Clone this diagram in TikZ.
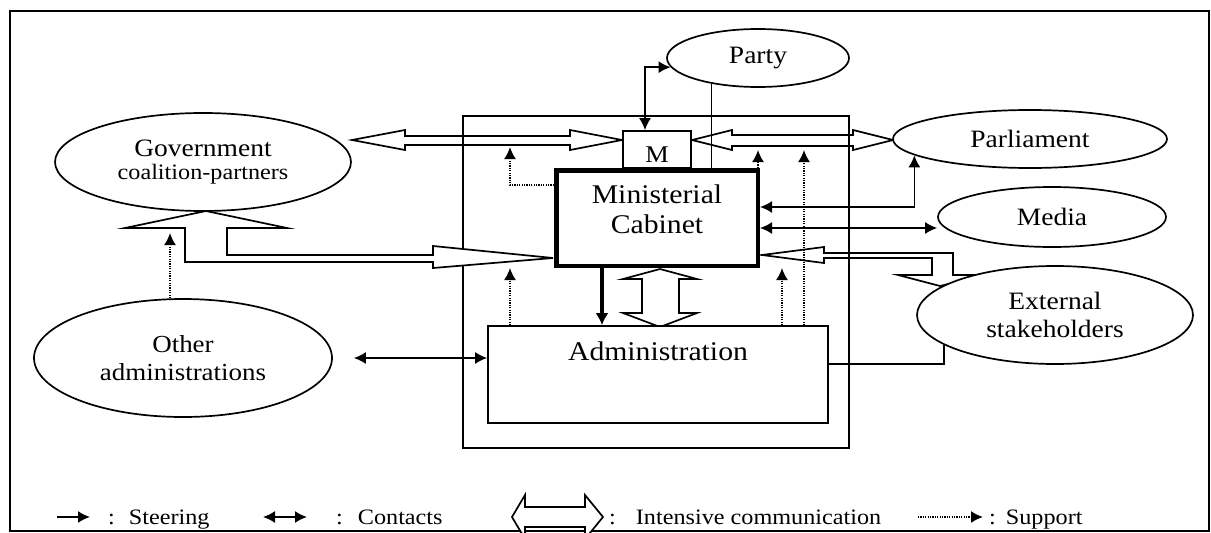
\documentclass[tikz,border=0pt]{standalone}
\usepackage{fontspec}
\setmainfont{Liberation Serif}[FakeStretch=1.1]
\usetikzlibrary{arrows.meta,shapes.geometric}
\begin{document}
\begin{tikzpicture}[x=1pt,y=-1pt,
  lw/.style={line width=1.7pt},
  ell/.style={draw, ellipse, lw, fill=white, inner sep=0pt, align=center, font=\fontsize{25}{28}\selectfont},
  hollow/.style={draw, lw, fill=white, line join=miter},
  boxed/.style={draw, lw, fill=white, inner sep=0pt},
  steerarr/.style={lw, -{Latex[length=12pt,width=12pt]}},
  contactarr/.style={lw, {Latex[length=12pt,width=12pt]}-{Latex[length=12pt,width=12pt]}},
  supportarr/.style={lw, dash pattern=on 1.2pt off 1.2pt, -{Latex[length=12pt,width=12pt]}},
  lbl/.style={inner sep=0pt, align=center, font=\fontsize{27}{30}\selectfont},
  leg/.style={font=\fontsize{22}{24}\selectfont, anchor=base west, inner sep=0pt},
]
\useasboundingbox (0,0) rectangle (1211,533);
% outer frame
\draw[lw] (10,11) rectangle (1209,531);
% ministry box
\node (ministry) [draw, lw, outer sep=0pt, minimum width=386pt, minimum height=332pt] at (656,282) {};

% hollow (intensive communication) arrows
\draw[hollow] (352,140) -- (405,130) -- (405,136) -- (570,136) -- (570,130) -- (622,140)
  -- (570,150) -- (570,145) -- (405,145) -- (405,150) -- cycle;
\draw[hollow] (692,140) -- (732,130) -- (732,135) -- (853,135) -- (853,130) -- (893,140)
  -- (853,150) -- (853,146) -- (732,146) -- (732,150) -- cycle;
\draw[hollow] (206,211) -- (287,228) -- (227,228) -- (227,255) -- (433,255) -- (433,246)
  -- (553,258) -- (433,268) -- (433,262) -- (185,262) -- (185,228) -- (125,228) -- cycle;
\draw[hollow] (762,255) -- (824,247) -- (824,253) -- (953,253) -- (953,275) -- (987,275)
  -- (940,286) -- (898,275) -- (932,275) -- (932,258) -- (824,258) -- (824,263) -- cycle;
\draw[hollow] (660,269) -- (697,279) -- (679,279) -- (679,313) -- (697,313) -- (660,327)
  -- (623,313) -- (642,313) -- (642,279) -- (623,279) -- cycle;

% ellipses
\node (party) [ell, minimum width=182pt, minimum height=58pt] at (758,58) {Party};
\node (parl)  [ell, minimum width=274pt, minimum height=58pt] at (1030,139) {Parliament};
\node (media) [ell, minimum width=228pt, minimum height=60pt] at (1052,217) {Media};
\node (ext)   [ell, minimum width=276pt, minimum height=98pt] at (1055,315) {External\\stakeholders};
\node (gov)   [ell, minimum width=296pt, minimum height=98pt] at (203,162)
  {{\fontsize{25}{21}\selectfont Government}\\[-5pt]{\fontsize{22}{21}\selectfont coalition-partners}};
\node (oth)   [ell, minimum width=298pt, minimum height=118pt, font=\fontsize{24.5}{28}\selectfont] at (183,358) {Other\\administrations};

% box sides crossing the narrow shafts
\draw[lw] (ministry.north west) -- (ministry.north west |- 0,160);
\draw[lw] (ministry.north east) -- (ministry.north east |- 0,270);

% M, cabinet, administration
\node (mbox) [boxed, minimum width=68pt, minimum height=37pt] at (657,149.5) {};
\node (mlabel) [inner sep=0pt, font=\fontsize{24}{24}\selectfont] at (657,155) {M};
\node (cab) [draw, fill=white, line width=4.5pt, minimum width=201.5pt, minimum height=95.5pt] at (657,218) {};
\node (cablabel) [lbl] at (657,209) {Ministerial\\Cabinet};
\node (adm) [boxed, minimum width=340pt, minimum height=97pt] at (658,374.5) {};
\node (admlabel) [lbl, anchor=base] at (658,360) {Administration};

% helper coordinates
\coordinate (kMx) at (645,0);
\coordinate (kParlY) at (0,207);
\coordinate (kMediaY) at (0,228);
\coordinate (kSteerX) at (602,0);
\coordinate (kSupA) at (510,185);
\coordinate (kSupATip) at (510,147);
\coordinate (kSupB) at (510,268);
\coordinate (kSupC) at (782,268);
\coordinate (kSupD) at (804,150);
\coordinate (kSupE) at (758,150);
\coordinate (kSupF) at (170,233);
\coordinate (kAdmExtY) at (0,364);

% connectors
\draw[contactarr] (mbox.north -| kMx) |- (party.186);
\draw[lw] (party.209) -- (party.209 |- cab.north);
\draw[contactarr] (cab.east |- kParlY) -| (parl.188);
\draw[contactarr] (cab.east |- kMediaY) -- (media.west |- kMediaY);
\draw[lw] (adm.east |- kAdmExtY) -| (ext.195);
\draw[line width=3.2pt, -{Latex[length=12pt,width=13pt]}] (cab.south -| kSteerX) -- (adm.north -| kSteerX);
\draw[contactarr] ([xshift=21pt]oth.east) -- (adm.west |- oth.east);
\draw[supportarr] (cab.west |- kSupA) -| (kSupATip);
\draw[supportarr] (adm.north -| kSupB) -- (kSupB);
\draw[supportarr] (adm.north -| kSupC) -- (kSupC);
\draw[supportarr] (adm.north -| kSupD) -- (kSupD);
\draw[supportarr] (cab.north -| kSupE) -- (kSupE);
\draw[supportarr] (oth.north -| kSupF) -- (kSupF);

% legend
\coordinate (lgA1) at (57,517);  \coordinate (lgA2) at (90,517);
\coordinate (lgB1) at (263,517); \coordinate (lgB2) at (307,517);
\coordinate (lgD1) at (918,517); \coordinate (lgD2) at (983,517);
\draw[steerarr] (lgA1) -- (lgA2);
\node (legA) [leg] at (108,524) {:\hspace{14pt}Steering};
\draw[contactarr] (lgB1) -- (lgB2);
\node (legB) [leg] at (336,524) {:\hspace{15pt}Contacts};
\draw[hollow] (512,517) -- (525,495) -- (525,507) -- (585,507) -- (585,495) -- (603,517)
  -- (585,539) -- (585,527) -- (525,527) -- (525,539) -- cycle;
\node (legC) [leg] at (609,524) {:\hspace{20pt}Intensive communication};
\draw[supportarr] (lgD1) -- (lgD2);
\node (legD) [leg] at (989,524) {:\hspace{10pt}Support};
\end{tikzpicture}
\end{document}
